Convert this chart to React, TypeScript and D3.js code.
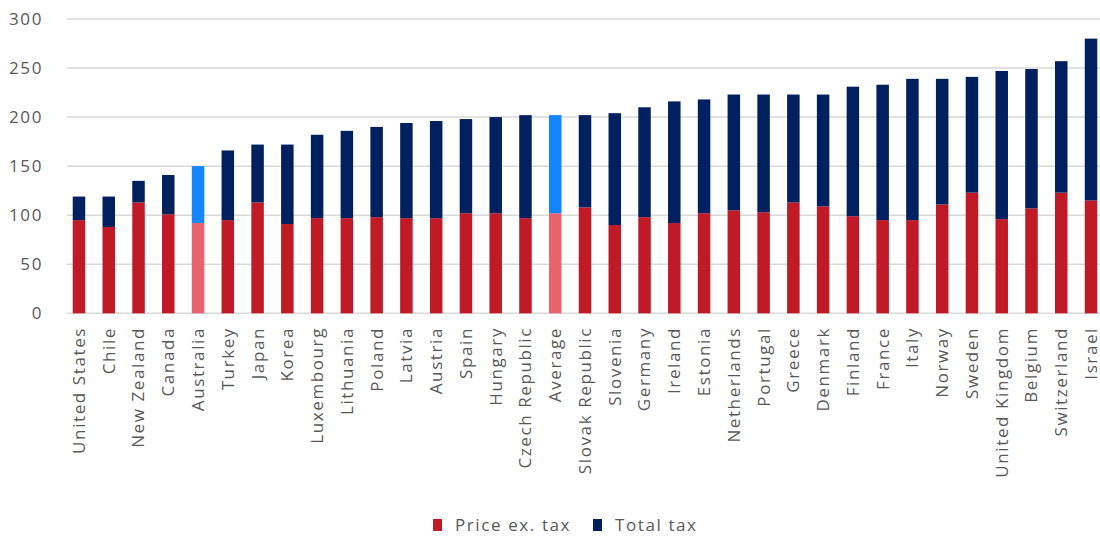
import React from "react";
import * as d3 from "d3";

// Countries ordered by total price (price ex. tax + total tax)
const countries = [
  "United States", "Chile", "New Zealand", "Canada", "Australia", "Turkey", "Japan", "Korea",
  "Luxembourg", "Lithuania", "Poland", "Latvia", "Austria", "Spain", "Hungary", "Czech Republic",
  "Average", "Slovak Republic", "Slovenia", "Germany", "Ireland", "Estonia", "Netherlands",
  "Portugal", "Greece", "Denmark", "Finland", "France", "Italy", "Norway", "Sweden",
  "United Kingdom", "Belgium", "Switzerland", "Israel",
];

const priceExTax = [
  95, 88, 113, 101, 92, 95, 113, 91, 97, 97, 98, 97, 97, 102, 102, 97, 102, 108, 90, 98, 92, 102,
  105, 103, 113, 109, 99, 95, 95, 111, 123, 96, 107, 123, 115,
];

const totalTax = [
  24, 31, 22, 40, 58, 71, 59, 81, 85, 89, 92, 97, 99, 96, 98, 105, 100, 94, 114, 112, 124, 116,
  118, 120, 110, 114, 132, 138, 144, 128, 118, 151, 142, 134, 165,
];

const yTicks = [0, 50, 100, 150, 200, 250, 300];

const seriesNames = ["Price ex. tax", "Total tax"];
const highlighted = ["Australia", "Average"];

const COLORS = {
  price: "#C01A26",
  tax: "#002060",
  priceHi: "#E8636B",
  taxHi: "#1484FF",
  grid: "#D9D9D9",
  text: "#595959",
};

const W = 1100;
const H = 537;
const FONT = "'Open Sans', sans-serif";

export default function App() {
  const x = d3
    .scaleBand<string>()
    .domain(countries)
    .range([64.1, 1105.9])
    .paddingInner(0.58)
    .paddingOuter(0.29);
  const y = d3.scaleLinear().domain([0, 300]).range([313.3, 19]);

  const rows = countries.map((c, i) => ({ country: c, price: priceExTax[i], tax: totalTax[i] }));
  const stack = d3.stack<any>().keys(["price", "tax"])(rows);

  const textStyle = { fontFamily: FONT, fontSize: 17, fill: COLORS.text, letterSpacing: 1.6 };

  return (
    <svg
      width={W}
      height={H}
      style={{ position: "absolute", left: 0, top: 0, background: "#fff" }}
    >
      {/* gridlines and y labels */}
      {yTicks.map((t) => (
        <g key={t}>
          <line x1={67} x2={1100} y1={y(t)} y2={y(t)} stroke={COLORS.grid} strokeWidth={1.5} />
          <text x={43} y={y(t)} dy="0.35em" textAnchor="end" {...textStyle}>
            {t}
          </text>
        </g>
      ))}

      {/* stacked bars */}
      {stack.map((layer) =>
        layer.map((d, i) => {
          const c = countries[i];
          const hi = highlighted.includes(c);
          const fill =
            layer.key === "price"
              ? hi
                ? COLORS.priceHi
                : COLORS.price
              : hi
              ? COLORS.taxHi
              : COLORS.tax;
          return (
            <rect
              key={layer.key + c}
              x={x(c)}
              width={x.bandwidth()}
              y={y(d[1])}
              height={y(d[0]) - y(d[1])}
              fill={fill}
            />
          );
        })
      )}

      {/* category labels */}
      {countries.map((c) => {
        const cx = (x(c) ?? 0) + x.bandwidth() / 2;
        return (
          <text
            key={c}
            transform={`translate(${cx},327) rotate(-90)`}
            dy="0.35em"
            textAnchor="end"
            {...textStyle}
          >
            {c}
          </text>
        );
      })}

      {/* legend */}
      {seriesNames.map((name, i) => {
        const lx = [433, 593][i];
        return (
          <g key={name}>
            <rect x={lx} y={519} width={9} height={12} fill={i === 0 ? COLORS.price : COLORS.tax} />
            <text x={lx + 22} y={531} {...textStyle}>
              {name}
            </text>
          </g>
        );
      })}
    </svg>
  );
}
